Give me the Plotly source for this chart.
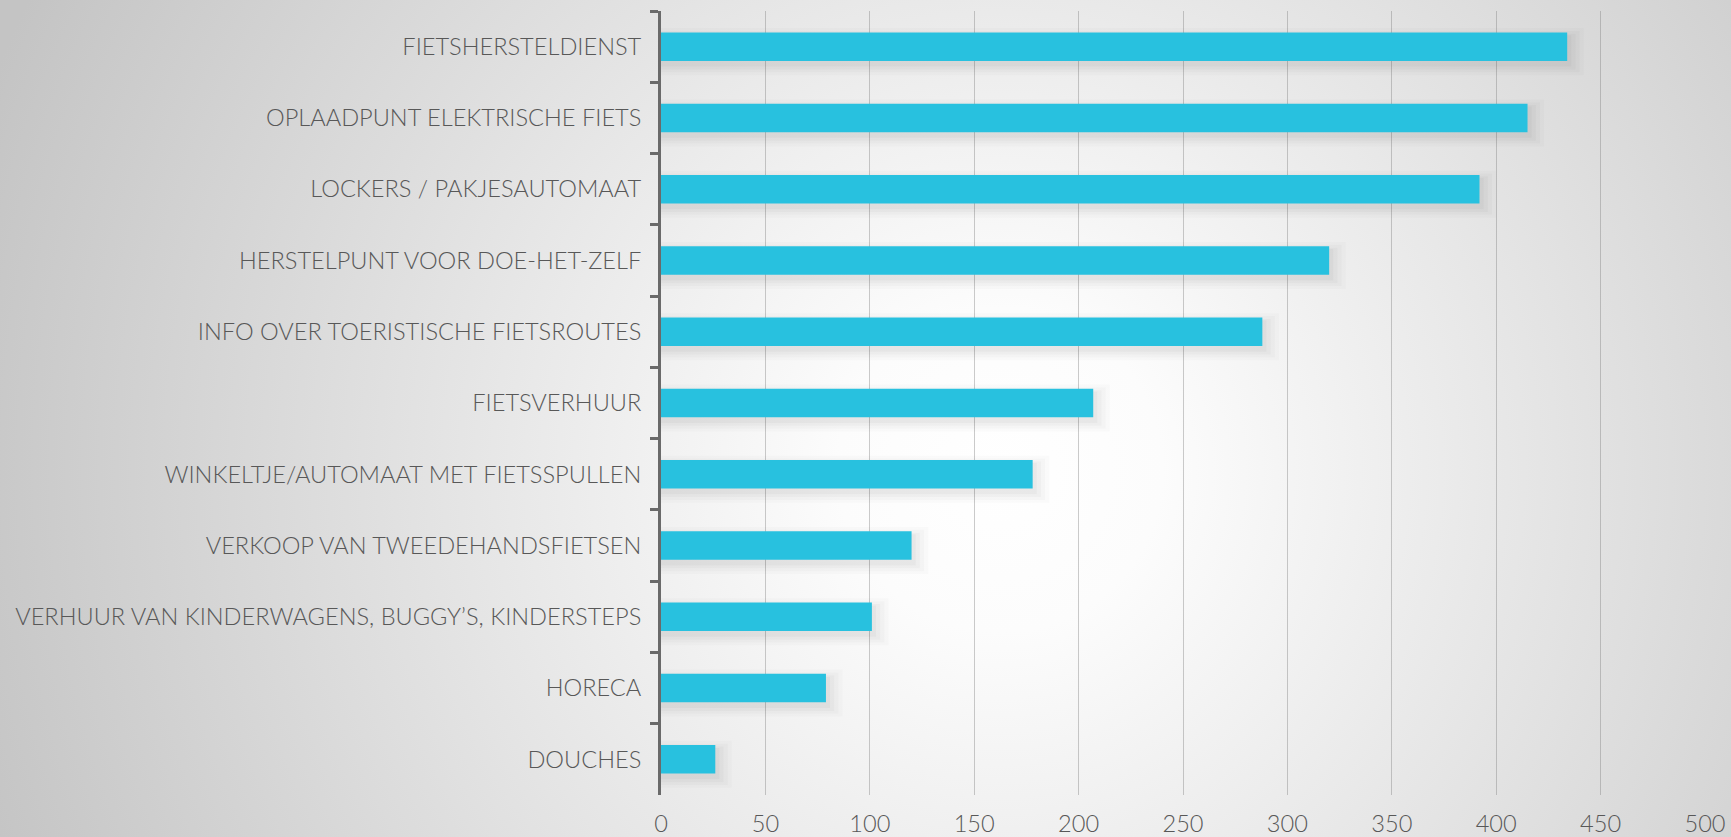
import plotly.graph_objects as go
import urllib.parse

categories = [
    "FIETSHERSTELDIENST",
    "OPLAADPUNT ELEKTRISCHE FIETS",
    "LOCKERS / PAKJESAUTOMAAT",
    "HERSTELPUNT VOOR DOE-HET-ZELF",
    "INFO OVER TOERISTISCHE FIETSROUTES",
    "FIETSVERHUUR",
    "WINKELTJE/AUTOMAAT MET FIETSSPULLEN",
    "VERKOOP VAN TWEEDEHANDSFIETSEN",
    "VERHUUR VAN KINDERWAGENS, BUGGY\u2019S, KINDERSTEPS",
    "HORECA",
    "DOUCHES",
]
values = [434, 415, 392, 320, 288, 207, 178, 120, 101, 79, 26]
x_ticks = [0, 50, 100, 150, 200, 250, 300, 350, 400, 450, 500]

BAR = "#28C1DF"
TXT = "#585858"
FONT = "Lato, 'Open Sans', sans-serif"

W, H = 1731, 837
L, R, T, B = 661, 26, 11, 42
PW, PH = W - L - R, H - T - B

svg = (
    f'<svg xmlns="http://www.w3.org/2000/svg" width="{W}" height="{H}" viewBox="0 0 {W} {H}" preserveAspectRatio="none">'
    '<defs><radialGradient id="g" gradientUnits="userSpaceOnUse" cx="1000" cy="470" r="1080">'
    '<stop offset="0" stop-color="#ffffff"/>'
    '<stop offset="0.15" stop-color="#fcfcfc"/>'
    '<stop offset="0.5" stop-color="#e5e5e5"/>'
    '<stop offset="1" stop-color="#c4c4c4"/>'
    '</radialGradient></defs>'
    f'<rect width="{W}" height="{H}" fill="url(#g)"/></svg>'
)
bg_src = "data:image/svg+xml;charset=utf-8," + urllib.parse.quote(svg)

fig = go.Figure()

# soft shadow layers derived from the bar values
for extra, w, off, a in [(8, 0.66, -0.26, 0.016), (6, 0.58, -0.22, 0.02), (4, 0.5, -0.18, 0.024), (2, 0.44, -0.16, 0.028)]:
    fig.add_trace(go.Bar(
        y=categories, x=[v + extra for v in values], orientation="h",
        width=w, offset=off, marker=dict(color=f"rgba(0,0,0,{a})", line=dict(width=0)),
        hoverinfo="skip", showlegend=False,
    ))

fig.add_trace(go.Bar(
    y=categories, x=values, orientation="h", width=0.4,
    marker=dict(color=BAR, line=dict(width=0)), showlegend=False,
))

fig.update_layout(
    width=W, height=H,
    barmode="overlay",
    margin=dict(l=L, r=R, t=T, b=B),
    paper_bgcolor="#d8d8d8",
    plot_bgcolor="rgba(0,0,0,0)",
    font=dict(family=FONT, color=TXT, size=23.6, weight=300),
    images=[dict(source=bg_src, xref="paper", yref="paper",
                 x=-L / PW, y=1 + T / PH, sizex=W / PW, sizey=H / PH,
                 xanchor="left", yanchor="top",
                 sizing="stretch", layer="below")],
    xaxis=dict(range=[0, 500], tickvals=x_ticks, showgrid=True, automargin=False,
               gridcolor="rgba(130,130,130,0.42)", gridwidth=1,
               zeroline=False, showline=False, ticks="",
               tickfont=dict(size=23.6, color=TXT, weight=300), ticklabelstandoff=12),
    yaxis=dict(categoryorder="array", categoryarray=categories, automargin=False,
               autorange="reversed", showgrid=False,
               showline=True, linecolor="#6a6a6a", linewidth=3,
               ticks="outside", tickson="boundaries", ticklen=8,
               tickwidth=3, tickcolor="#6a6a6a",
               tickfont=dict(size=23.6, color=TXT, weight=300), ticklabelstandoff=12),
)

fig.write_html(
    "out.html",
    config={"displayModeBar": False},
    post_script="document.body.style.margin='0';document.body.style.overflow='hidden';document.body.style.background='#d0d0d0';",
)
